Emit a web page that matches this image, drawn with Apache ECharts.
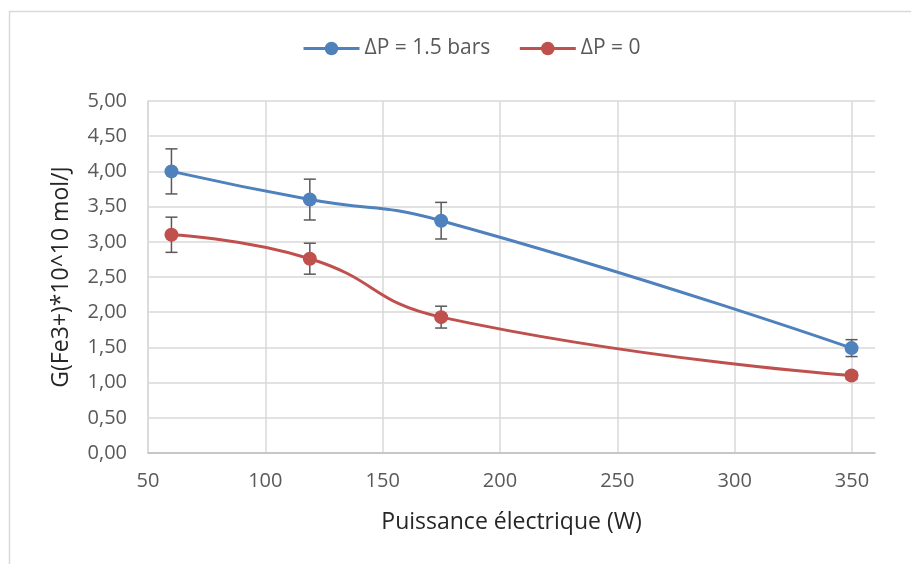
<!DOCTYPE html>
<html>
<head>
<meta charset="utf-8">
<script src="https://cdn.jsdelivr.net/npm/echarts@6/dist/echarts.min.js"></script>
<style>
  html, body { margin: 0; padding: 0; background: #ffffff; }
  #chart { width: 911px; height: 564px; }
</style>
</head>
<body>
<div id="chart"></div>
<script>
// Electrical power (W) and G(Fe3+) yield for the two pressure drops
const power = [60, 119, 175, 350];
const seriesNames = ['ΔP = 1.5 bars', 'ΔP = 0'];
const gHighDp = [4.00, 3.60, 3.30, 1.49];
const gHighDpErr = [0.32, 0.29, 0.26, 0.12];
const gZeroDp = [3.10, 2.76, 1.93, 1.10];
const gZeroDpErr = [0.25, 0.22, 0.155, 0.05];

const xTicks = { min: 50, max: 350, step: 50 };
const yTicks = { min: 0, max: 5, step: 0.5 };

const FONT = '"Open Sans", "Liberation Sans", sans-serif';
const GRID_COLOR = '#d9d9d9';
const TEXT_COLOR = '#595959';

function pairs(xs, ys) { return xs.map((x, i) => [x, ys[i]]); }
function errRows(xs, ys, es) { return xs.map((x, i) => [x, ys[i] - es[i], ys[i] + es[i]]); }

function errorBarSeries(rows) {
  return {
    type: 'custom',
    xAxisIndex: 0, yAxisIndex: 0,
    z: 1,
    silent: true,
    data: rows,
    renderItem: function (params, api) {
      const x = api.value(0);
      const lo = api.coord([x, api.value(1)]);
      const hi = api.coord([x, api.value(2)]);
      const cap = 6;
      const style = { stroke: '#595959', lineWidth: 1.5 };
      return {
        type: 'group',
        children: [
          { type: 'line', shape: { x1: lo[0], y1: lo[1], x2: hi[0], y2: hi[1] }, style },
          { type: 'line', shape: { x1: lo[0] - cap, y1: lo[1], x2: lo[0] + cap, y2: lo[1] }, style },
          { type: 'line', shape: { x1: hi[0] - cap, y1: hi[1], x2: hi[0] + cap, y2: hi[1] }, style }
        ]
      };
    }
  };
}

function lineSeries(name, color, ys) {
  return {
    name: name,
    type: 'line',
    xAxisIndex: 0, yAxisIndex: 0,
    z: 3,
    data: pairs(power, ys),
    smooth: 0.5,
    symbol: 'circle',
    symbolSize: 14,
    lineStyle: { color: color, width: 3 },
    itemStyle: { color: color },
    emphasis: { disabled: true }
  };
}

const chart = echarts.init(document.getElementById('chart'), null, { renderer: 'canvas' });

chart.setOption({
  backgroundColor: '#ffffff',
  animation: false,
  textStyle: { fontFamily: FONT },
  graphic: [{
    type: 'rect',
    shape: { x: 9.5, y: 11.5, width: 1000, height: 1000 },
    style: { fill: 'none', stroke: GRID_COLOR, lineWidth: 1.5 },
    silent: true
  }],
  legend: {
    data: seriesNames,
    left: 297,
    top: 33,
    itemWidth: 56,
    itemHeight: 17,
    itemGap: 28,
    lineStyle: { width: 3 },
    textStyle: { fontFamily: FONT, fontSize: 21, color: TEXT_COLOR }
  },
  grid: [
    { left: 148, right: 36, top: 101, bottom: 111 },
    { left: 148, width: 704, top: 101, bottom: 111 }
  ],
  xAxis: [
    {
      type: 'value', gridIndex: 0,
      min: xTicks.min, max: 360,
      axisLine: { show: true, lineStyle: { color: '#bfbfbf', width: 1.5 } },
      axisTick: { show: false },
      axisLabel: { show: false },
      splitLine: { show: false },
      name: 'Puissance électrique (W)',
      nameLocation: 'middle',
      nameGap: 58,
      nameTextStyle: { fontFamily: FONT, fontSize: 23, color: '#262626' }
    },
    {
      type: 'value', gridIndex: 1,
      min: xTicks.min, max: xTicks.max, interval: xTicks.step,
      axisLine: { show: false },
      axisTick: { show: false },
      axisLabel: { fontFamily: FONT, fontSize: 20, color: TEXT_COLOR, margin: 18 },
      splitLine: { show: true, lineStyle: { color: GRID_COLOR, width: 1.5 } }
    }
  ],
  yAxis: [
    {
      type: 'value', gridIndex: 0,
      min: yTicks.min, max: yTicks.max, interval: yTicks.step,
      axisLine: { show: true, lineStyle: { color: GRID_COLOR, width: 1.5 } },
      axisTick: { show: false },
      axisLabel: {
        fontFamily: FONT, fontSize: 20, color: TEXT_COLOR, margin: 21,
        formatter: v => v.toFixed(2).replace('.', ',')
      },
      splitLine: { show: true, lineStyle: { color: GRID_COLOR, width: 1.5 } },
      name: 'G(Fe3+)*10^10 mol/J',
      nameLocation: 'middle',
      nameRotate: 90,
      nameGap: 75,
      nameTextStyle: { fontFamily: FONT, fontSize: 23, color: '#262626' }
    },
    {
      type: 'value', gridIndex: 1,
      min: yTicks.min, max: yTicks.max,
      show: false,
      splitLine: { show: false }
    }
  ],
  series: [
    errorBarSeries(errRows(power, gHighDp, gHighDpErr)),
    errorBarSeries(errRows(power, gZeroDp, gZeroDpErr)),
    lineSeries(seriesNames[0], '#4f81bd', gHighDp),
    lineSeries(seriesNames[1], '#c0504d', gZeroDp)
  ]
});
</script>
</body>
</html>
